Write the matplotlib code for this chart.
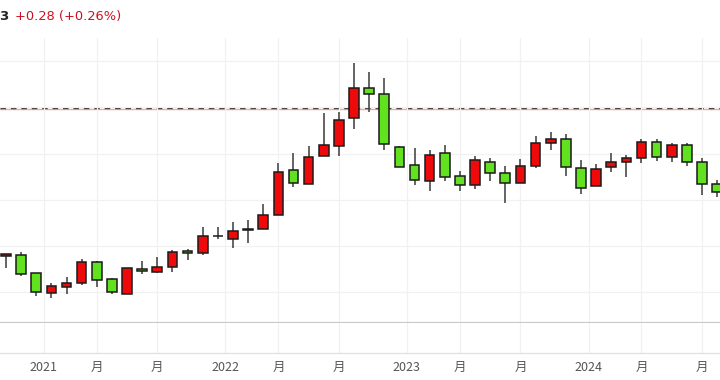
import matplotlib
matplotlib.use("Agg")
import matplotlib.pyplot as plt
import numpy as np

plt.rcParams['font.family'] = ['Noto Sans CJK SC', 'DejaVu Sans']

# Monthly OHLC
opens  = [98.88, 98.98, 97.03, 94.89, 95.54, 95.94, 98.22, 96.38, 94.78, 97.46,
          97.14, 97.71, 99.42, 99.20, 101.07, 100.72, 101.74, 101.77, 103.33, 108.21,
          106.72, 109.73, 110.78, 113.86, 117.11, 116.49, 110.71, 108.75, 107.02, 110.06,
          107.56, 106.62, 109.11, 107.89, 106.80, 108.64, 111.17, 111.61, 108.43, 106.47,
          108.50, 109.11, 109.51, 111.28, 109.62, 110.92, 109.08, 106.72]
highs  = [99.12, 99.31, 97.05, 95.94, 96.60, 98.55, 98.37, 96.52, 97.60, 98.33,
          98.80, 99.53, 99.64, 102.06, 102.02, 102.57, 102.78, 104.52, 108.97, 110.06,
          110.82, 114.40, 114.51, 119.86, 118.88, 118.20, 110.85, 110.60, 110.38, 110.92,
          108.13, 109.73, 109.55, 108.64, 109.44, 111.90, 112.34, 112.15, 109.30, 108.86,
          110.06, 109.84, 111.58, 111.58, 111.17, 111.17, 109.51, 107.12]
lows   = [97.57, 96.70, 94.53, 94.32, 94.78, 95.73, 95.51, 94.75, 94.75, 96.92,
          97.03, 97.14, 98.44, 98.98, 100.72, 99.78, 100.29, 101.77, 103.30, 106.40,
          106.70, 109.70, 109.73, 112.66, 114.54, 110.38, 108.52, 106.58, 105.93, 107.02,
          105.93, 106.15, 107.05, 104.63, 106.78, 108.43, 110.41, 107.56, 105.64, 106.45,
          107.99, 107.45, 108.97, 109.19, 109.11, 108.68, 105.53, 105.28]
closes = [99.09, 96.92, 94.97, 95.65, 95.98, 98.22, 96.27, 94.97, 97.57, 97.21,
          97.68, 99.31, 99.20, 101.05, 101.09, 101.59, 101.76, 103.33, 107.99, 106.80,
          109.65, 110.92, 113.67, 117.11, 116.49, 111.03, 108.54, 107.16, 109.84, 107.45,
          106.62, 109.33, 107.85, 106.83, 108.64, 111.17, 111.61, 108.50, 106.29, 108.32,
          109.11, 109.55, 111.25, 109.62, 110.92, 109.11, 106.72, 105.82]

tick_pos = [2.5, 6, 10, 14.5, 18, 22, 26.5, 30, 34, 38.5, 42, 46]
tick_labels = ["2021", "月", "月", "2022", "月", "月", "2023", "月", "月", "2024", "月", "月"]
ref_level = 114.94
grid_levels = [95, 100, 105, 110, 115, 120]

UP = "#ee0a0a"
DOWN = "#62e21e"

fig = plt.figure(figsize=(7.2, 3.8), dpi=100)
ax = fig.add_axes([0, 0.149, 1, 0.751])
axb = fig.add_axes([0, 0.071, 1, 0.078], sharex=ax)

x = np.arange(len(opens))
o = np.array(opens); h = np.array(highs); l = np.array(lows); c = np.array(closes)
up = c >= o
colors = [UP if u else DOWN for u in up]

ax.vlines(x, l, h, color="#4a4a4a", linewidth=1.2, zorder=2)
bottoms = np.minimum(o, c)
heights = np.maximum(np.abs(c - o), 0.02)
ax.bar(x, heights, width=0.64, bottom=bottoms, color=colors,
       edgecolor="#1a1a1a", linewidth=1.1, zorder=3)

ax.axhline(ref_level - 0.15, color="#f2a8a8", linewidth=1.0, zorder=1)
ax.axhline(ref_level, color="#333333", linewidth=1.0, linestyle=(0, (4, 3.5)), zorder=1)

ax.set_xlim(-0.397, 47.19)
ax.set_ylim(91.57, 122.54)
ax.set_yticks(grid_levels)
ax.set_xticks(tick_pos)
ax.grid(True, color="#f1f1f1", linewidth=0.9, zorder=0)
ax.tick_params(left=False, bottom=False, labelleft=False, labelbottom=False)
for s in ["top", "left", "right"]:
    ax.spines[s].set_visible(False)
ax.spines["bottom"].set_color("#c8c8c8")
ax.spines["bottom"].set_linewidth(1.6)

axb.set_yticks([])
axb.set_xticks(tick_pos)
axb.set_xticklabels(tick_labels)
axb.grid(True, axis="x", color="#f1f1f1", linewidth=0.9)
axb.tick_params(axis="x", length=0, pad=6, labelsize=9, labelcolor="#555555")
for s in ["top", "left", "right"]:
    axb.spines[s].set_visible(False)
axb.spines["bottom"].set_color("#e2e2e2")
axb.spines["bottom"].set_linewidth(1.0)

fig.text(-0.001, 0.957, "3", fontsize=9.5, color="#222222", fontweight="bold",
         va="center", ha="left", family="DejaVu Sans")
fig.text(0.021, 0.957, "+0.28 (+0.26%)", fontsize=9.4, color="#cc1122",
         va="center", ha="left", family="DejaVu Sans")

fig.savefig("out.png", dpi=100)
